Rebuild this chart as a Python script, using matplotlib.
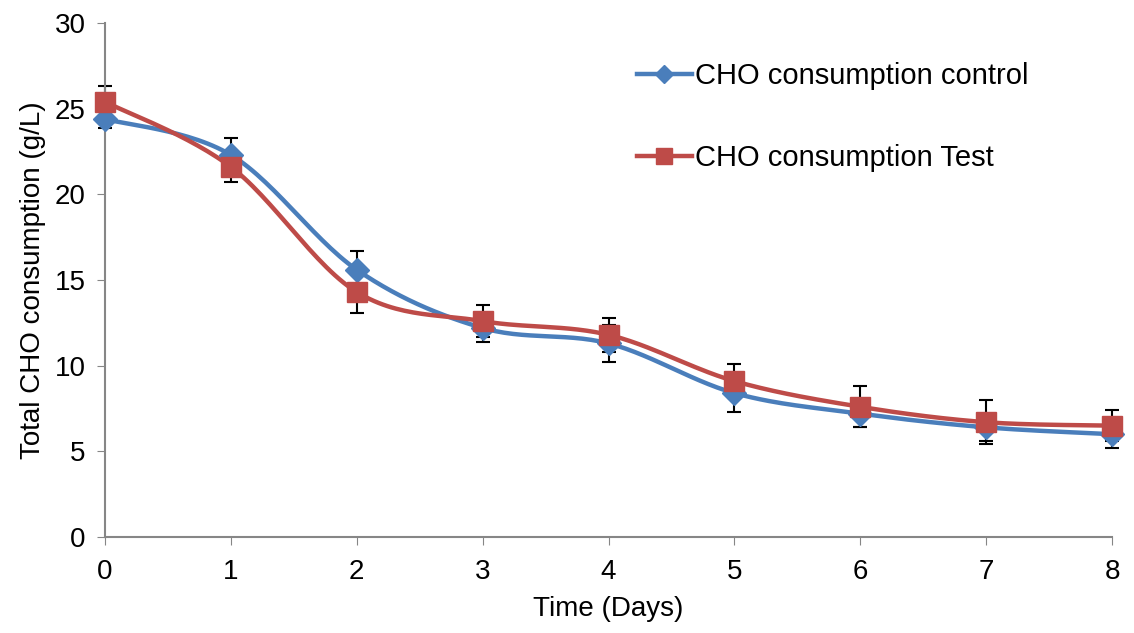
import matplotlib
matplotlib.use("Agg")
import matplotlib.pyplot as plt
import numpy as np

plt.rcParams['font.family'] = ['Liberation Sans', 'DejaVu Sans']

days = [0, 1, 2, 3, 4, 5, 6, 7, 8]
control = [24.4, 22.3, 15.6, 12.2, 11.3, 8.4, 7.2, 6.4, 6.0]
control_err = [0.5, 1.0, 1.1, 0.8, 1.1, 1.1, 0.8, 0.8, 0.8]
test = [25.4, 21.6, 14.3, 12.6, 11.8, 9.1, 7.6, 6.7, 6.5]
test_err = [0.9, 0.9, 1.2, 0.95, 1.0, 1.0, 1.2, 1.3, 0.9]


def smooth(x, y, n=30):
    # Excel-style smoothed line: Catmull-Rom bezier through the points
    x = np.asarray(x, float)
    y = np.asarray(y, float)
    px = np.concatenate([[x[0]], x, [x[-1]]])
    py = np.concatenate([[y[0]], y, [y[-1]]])
    xs, ys = [], []
    t = np.linspace(0, 1, n)
    for i in range(1, len(px) - 2):
        p0 = np.array([px[i], py[i]])
        p3 = np.array([px[i + 1], py[i + 1]])
        p1 = p0 + (np.array([px[i + 1], py[i + 1]]) - np.array([px[i - 1], py[i - 1]])) / 6
        p2 = p3 - (np.array([px[i + 2], py[i + 2]]) - np.array([px[i], py[i]])) / 6
        b = ((1 - t) ** 3)[:, None] * p0 + (3 * (1 - t) ** 2 * t)[:, None] * p1 \
            + (3 * (1 - t) * t ** 2)[:, None] * p2 + (t ** 3)[:, None] * p3
        xs.extend(b[:, 0])
        ys.extend(b[:, 1])
    return xs, ys


fig = plt.figure(figsize=(11.34, 6.33), dpi=100)
ax = fig.add_axes([105 / 1134, 1 - 537 / 633, (1112 - 105) / 1134, (537 - 23) / 633])

blue = '#4A7EBB'
red = '#BE4B48'

for vals, errs in [(control, control_err), (test, test_err)]:
    eb = ax.errorbar(days, vals, yerr=errs, fmt='none', ecolor='black', elinewidth=1.5,
                     capsize=5, capthick=1.5, zorder=2)
    for art in eb.lines[1] + eb.lines[2]:
        art.set_clip_on(False)

sx, sy = smooth(days, control)
ax.plot(sx, sy, color=blue, linewidth=3.2, zorder=3, clip_on=False)
ax.plot(days, control, linestyle='none', marker='D', markersize=12, color=blue, zorder=4, clip_on=False)
sx, sy = smooth(days, test)
ax.plot(sx, sy, color=red, linewidth=3.2, zorder=3, clip_on=False)
ax.plot(days, test, linestyle='none', marker='s', markersize=14, color=red, zorder=4, clip_on=False)

# legend handles
h1, = ax.plot([], [], color=blue, linewidth=3.2, marker='D', markersize=9, label='CHO consumption control')
h2, = ax.plot([], [], color=red, linewidth=3.2, marker='s', markersize=12, label='CHO consumption Test')
ax.legend(handles=[h1, h2], loc='upper left', bbox_to_anchor=(0.502, 0.975), frameon=False,
          fontsize=21, labelspacing=1.85, handlelength=1.9, handletextpad=0.1)

ax.set_xlim(0, 8)
ax.set_ylim(0, 30)
ax.set_xticks(days)
ax.set_yticks([0, 5, 10, 15, 20, 25, 30])
ax.set_xlabel('Time (Days)', fontsize=20, labelpad=8)
ax.set_ylabel('Total CHO consumption (g/L)', fontsize=20, labelpad=6)
ax.tick_params(labelsize=20, color='#868686', length=6, direction='out')
ax.tick_params(axis='x', pad=10)
ax.tick_params(axis='y', pad=8)
for s in ['top', 'right']:
    ax.spines[s].set_visible(False)
for s in ['left', 'bottom']:
    ax.spines[s].set_color('#868686')
    ax.spines[s].set_linewidth(1.5)

fig.savefig('out.png', dpi=100)
